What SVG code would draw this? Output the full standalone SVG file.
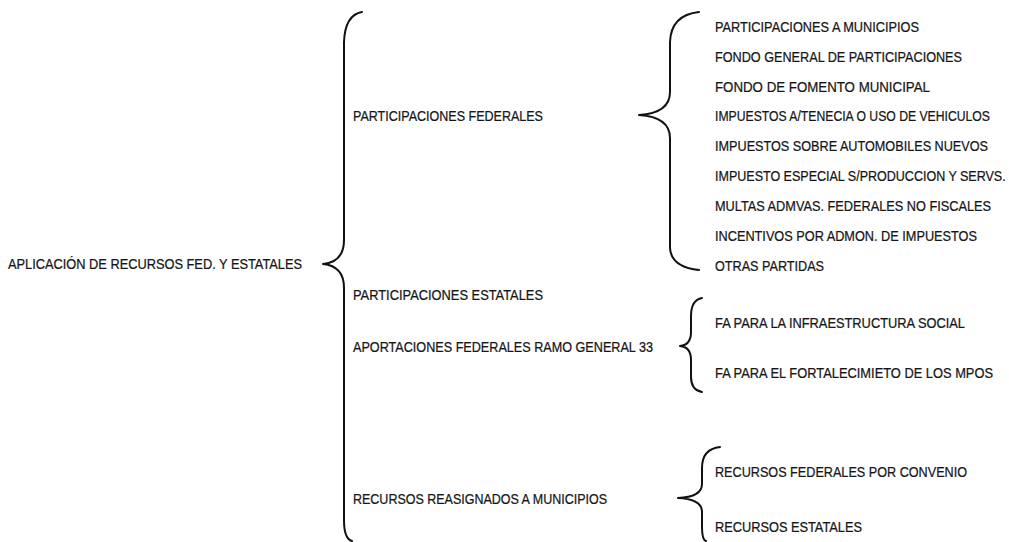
<svg xmlns="http://www.w3.org/2000/svg" width="1009" height="542" viewBox="0 0 1009 542">
<style>
text{font-family:"Liberation Sans",Arial,sans-serif;font-size:15px;fill:#161616;stroke:#161616;stroke-width:0.25;}
.br{fill:none;stroke:#111;stroke-width:2;stroke-linecap:round;stroke-linejoin:round;}
</style>
<rect width="1009" height="542" fill="#fff"/>
<g id="connectors">
<path class="br" d="M362,12 Q345,15 344,42 L344,240 Q344,262 323,264 Q344,266 344,288 L344,520 Q344,539 352,541"/>
<path class="br" d="M699,12 Q671,15 670,42 L670,92 Q670,113 639,115 Q670,117 670,138 L670,248 Q671,267 699,270"/>
<path class="br" d="M702,298 Q691,300 691,316 L691,332 Q691,345 680,346 Q691,347 691,360 L691,377 Q691,390 702,392"/>
<path class="br" d="M720,447 Q702,449 702,468 L702,484 Q702,497 678,498 Q702,499 702,512 L702,527 Q702,540 706,541"/>
</g>
<g id="root"><text transform="translate(8,269) scale(0.85,1)" textLength="345.9" lengthAdjust="spacingAndGlyphs">APLICACIÓN DE RECURSOS FED. Y ESTATALES</text></g>
<g id="pf"><text transform="translate(353,121) scale(0.85,1)" textLength="223.5" lengthAdjust="spacingAndGlyphs">PARTICIPACIONES FEDERALES</text></g>
<g id="pe"><text transform="translate(353,300) scale(0.85,1)" textLength="223.5" lengthAdjust="spacingAndGlyphs">PARTICIPACIONES ESTATALES</text></g>
<g id="af"><text transform="translate(353,352) scale(0.85,1)" textLength="352.9" lengthAdjust="spacingAndGlyphs">APORTACIONES FEDERALES RAMO GENERAL 33</text></g>
<g id="rr"><text transform="translate(353,504) scale(0.85,1)" textLength="298.8" lengthAdjust="spacingAndGlyphs">RECURSOS REASIGNADOS A MUNICIPIOS</text></g>
<g id="pf-items">
<text transform="translate(715,32) scale(0.85,1)" textLength="240" lengthAdjust="spacingAndGlyphs">PARTICIPACIONES A MUNICIPIOS</text>
<text transform="translate(715,62) scale(0.85,1)" textLength="290.6" lengthAdjust="spacingAndGlyphs">FONDO GENERAL DE PARTICIPACIONES</text>
<text transform="translate(715,92) scale(0.85,1)" textLength="252.9" lengthAdjust="spacingAndGlyphs">FONDO DE FOMENTO MUNICIPAL</text>
<text transform="translate(715,121) scale(0.85,1)" textLength="323.5" lengthAdjust="spacingAndGlyphs">IMPUESTOS A/TENECIA O USO DE VEHICULOS</text>
<text transform="translate(715,151) scale(0.85,1)" textLength="321.2" lengthAdjust="spacingAndGlyphs">IMPUESTOS SOBRE AUTOMOBILES NUEVOS</text>
<text transform="translate(715,181) scale(0.85,1)" textLength="342" lengthAdjust="spacingAndGlyphs">IMPUESTO ESPECIAL S/PRODUCCION Y SERVS.</text>
<text transform="translate(715,211) scale(0.85,1)" textLength="324.7" lengthAdjust="spacingAndGlyphs">MULTAS ADMVAS. FEDERALES NO FISCALES</text>
<text transform="translate(715,241) scale(0.85,1)" textLength="308.2" lengthAdjust="spacingAndGlyphs">INCENTIVOS POR ADMON. DE IMPUESTOS</text>
<text transform="translate(715,271) scale(0.85,1)" textLength="128.2" lengthAdjust="spacingAndGlyphs">OTRAS PARTIDAS</text>
</g>
<g id="af-items">
<text transform="translate(715,328) scale(0.85,1)" textLength="294.1" lengthAdjust="spacingAndGlyphs">FA PARA LA INFRAESTRUCTURA SOCIAL</text>
<text transform="translate(715,378) scale(0.85,1)" textLength="327.1" lengthAdjust="spacingAndGlyphs">FA PARA EL FORTALECIMIETO DE LOS MPOS</text>
</g>
<g id="rr-items">
<text transform="translate(715,477) scale(0.85,1)" textLength="296.5" lengthAdjust="spacingAndGlyphs">RECURSOS FEDERALES POR CONVENIO</text>
<text transform="translate(715,532) scale(0.85,1)" textLength="172.9" lengthAdjust="spacingAndGlyphs">RECURSOS ESTATALES</text>
</g>
</svg>
